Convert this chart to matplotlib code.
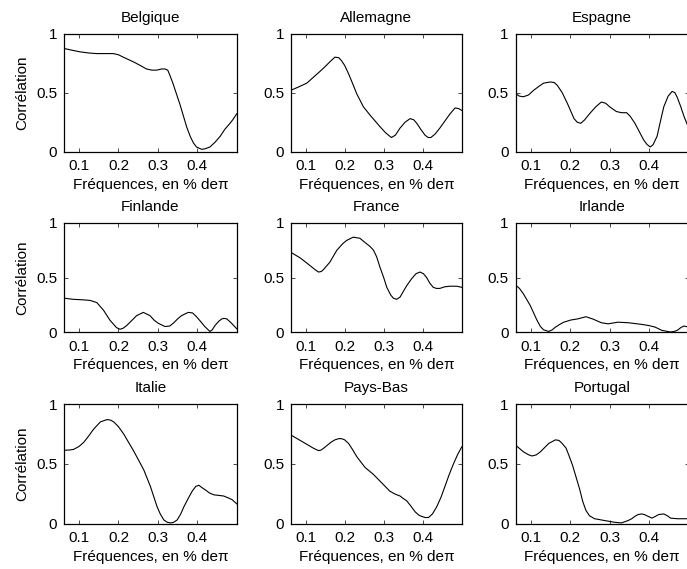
import matplotlib
matplotlib.use("Agg")
import matplotlib.pyplot as plt

plt.rcParams["font.family"] = ["Liberation Sans", "DejaVu Sans"]
plt.rcParams["font.size"] = 11

# --------------------------------------------------------------------------
# Coherence curves (frequency as fraction of pi)
# --------------------------------------------------------------------------

belgique_f = [0.0625, 0.08, 0.102, 0.125, 0.145, 0.165, 0.187, 0.2, 0.212, 0.238,
              0.255, 0.271, 0.285, 0.297, 0.31, 0.318, 0.325, 0.33, 0.338, 0.347,
              0.356, 0.365, 0.373, 0.382, 0.39, 0.398, 0.411, 0.42, 0.432, 0.445,
              0.458, 0.47, 0.483, 0.49, 0.5]
belgique_c = [0.873, 0.86, 0.845, 0.835, 0.83, 0.83, 0.83, 0.82, 0.80, 0.76,
              0.73, 0.70, 0.69, 0.69, 0.70, 0.70, 0.69, 0.65, 0.58, 0.49,
              0.40, 0.30, 0.21, 0.13, 0.075, 0.04, 0.02, 0.025, 0.04, 0.08,
              0.13, 0.19, 0.24, 0.27, 0.32]

allemagne_f = [0.0625, 0.08, 0.103, 0.12, 0.137, 0.15, 0.162, 0.175, 0.185, 0.192,
               0.2, 0.21, 0.22, 0.231, 0.248, 0.265, 0.278, 0.291, 0.305, 0.316,
               0.32, 0.33, 0.342, 0.355, 0.368, 0.377, 0.385, 0.395, 0.406, 0.414,
               0.421, 0.432, 0.444, 0.457, 0.47, 0.483, 0.492, 0.5]
allemagne_c = [0.52, 0.545, 0.58, 0.63, 0.68, 0.72, 0.76, 0.80, 0.795, 0.77,
               0.73, 0.66, 0.58, 0.49, 0.38, 0.31, 0.26, 0.21, 0.16, 0.13,
               0.12, 0.14, 0.20, 0.25, 0.28, 0.27, 0.24, 0.19, 0.14, 0.12,
               0.12, 0.15, 0.20, 0.26, 0.32, 0.37, 0.365, 0.35]

espagne_f = [0.0625, 0.072, 0.082, 0.095, 0.108, 0.12, 0.133, 0.15, 0.16, 0.168,
             0.18, 0.193, 0.21, 0.218, 0.227, 0.237, 0.249, 0.265, 0.279, 0.29,
             0.3, 0.317, 0.33, 0.343, 0.352, 0.364, 0.375, 0.386, 0.395, 0.403,
             0.41, 0.42, 0.428, 0.437, 0.448, 0.458, 0.465, 0.471, 0.48, 0.488,
             0.5]
espagne_c = [0.49, 0.47, 0.465, 0.48, 0.52, 0.55, 0.58, 0.59, 0.585, 0.56,
             0.50, 0.41, 0.28, 0.25, 0.24, 0.27, 0.32, 0.38, 0.42, 0.41,
             0.38, 0.34, 0.33, 0.33, 0.30, 0.24, 0.17, 0.10, 0.06, 0.04,
             0.06, 0.13, 0.25, 0.38, 0.47, 0.51, 0.50, 0.46, 0.38, 0.30,
             0.20]

finlande_f = [0.0625, 0.085, 0.11, 0.128, 0.145, 0.162, 0.178, 0.195, 0.204, 0.212,
              0.221, 0.235, 0.246, 0.263, 0.28, 0.29, 0.301, 0.318, 0.33, 0.339,
              0.35, 0.36, 0.377, 0.388, 0.398, 0.41, 0.419, 0.432, 0.438, 0.445,
              0.455, 0.462, 0.468, 0.475, 0.487, 0.5]
finlande_c = [0.31, 0.30, 0.295, 0.29, 0.27, 0.20, 0.11, 0.04, 0.025, 0.035,
              0.06, 0.11, 0.15, 0.18, 0.15, 0.11, 0.08, 0.05, 0.055, 0.08,
              0.12, 0.15, 0.18, 0.175, 0.14, 0.09, 0.05, 0.005, 0.02, 0.06,
              0.10, 0.12, 0.125, 0.12, 0.08, 0.03]

france_f = [0.0625, 0.086, 0.111, 0.125, 0.133, 0.14, 0.145, 0.162, 0.18, 0.195,
            0.205, 0.222, 0.239, 0.256, 0.265, 0.274, 0.282, 0.29, 0.3, 0.308,
            0.318, 0.325, 0.333, 0.342, 0.35, 0.36, 0.372, 0.383, 0.393, 0.402,
            0.41, 0.418, 0.427, 0.435, 0.444, 0.457, 0.47, 0.487, 0.5]
france_c = [0.73, 0.68, 0.61, 0.57, 0.55, 0.555, 0.57, 0.64, 0.75, 0.81,
            0.84, 0.87, 0.86, 0.81, 0.785, 0.75, 0.69, 0.60, 0.50, 0.41,
            0.34, 0.31, 0.30, 0.32, 0.37, 0.43, 0.49, 0.535, 0.55, 0.535,
            0.50, 0.45, 0.41, 0.40, 0.40, 0.415, 0.42, 0.42, 0.41]

irlande_f = [0.0625, 0.072, 0.082, 0.099, 0.116, 0.125, 0.133, 0.146, 0.155, 0.163,
             0.174, 0.184, 0.202, 0.219, 0.24, 0.257, 0.279, 0.296, 0.321, 0.347,
             0.381, 0.398, 0.415, 0.432, 0.454, 0.463, 0.471, 0.48, 0.488, 0.5]
irlande_c = [0.43, 0.40, 0.35, 0.245, 0.11, 0.05, 0.02, 0.005, 0.02, 0.045,
             0.07, 0.09, 0.11, 0.12, 0.14, 0.12, 0.085, 0.075, 0.09, 0.085,
             0.07, 0.06, 0.045, 0.015, 0.0, 0.005, 0.015, 0.04, 0.055, 0.045]

italie_f = [0.0625, 0.075, 0.086, 0.1, 0.112, 0.125, 0.137, 0.154, 0.171, 0.18,
            0.188, 0.2, 0.213, 0.238, 0.264, 0.281, 0.29, 0.298, 0.306, 0.315,
            0.324, 0.332, 0.34, 0.349, 0.358, 0.366, 0.377, 0.387, 0.396, 0.404,
            0.412, 0.421, 0.431, 0.442, 0.455, 0.467, 0.478, 0.488, 0.5]
italie_c = [0.613, 0.615, 0.62, 0.645, 0.68, 0.735, 0.79, 0.85, 0.87, 0.865,
            0.85, 0.81, 0.75, 0.61, 0.45, 0.31, 0.22, 0.14, 0.08, 0.03,
            0.01, 0.005, 0.01, 0.03, 0.08, 0.14, 0.21, 0.27, 0.31, 0.32,
            0.30, 0.28, 0.255, 0.24, 0.235, 0.23, 0.215, 0.20, 0.165]

paysbas_f = [0.0625, 0.094, 0.12, 0.133, 0.14, 0.15, 0.165, 0.175, 0.185, 0.192,
             0.2, 0.21, 0.22, 0.231, 0.252, 0.274, 0.295, 0.316, 0.33, 0.342,
             0.35, 0.359, 0.37, 0.38, 0.39, 0.397, 0.406, 0.415, 0.425, 0.436,
             0.447, 0.457, 0.468, 0.479, 0.49, 0.5]
paysbas_c = [0.74, 0.68, 0.63, 0.61, 0.615, 0.64, 0.68, 0.70, 0.71, 0.71,
             0.70, 0.67, 0.62, 0.56, 0.47, 0.41, 0.34, 0.27, 0.245, 0.23,
             0.21, 0.19, 0.145, 0.10, 0.07, 0.06, 0.05, 0.05, 0.08, 0.14,
             0.22, 0.31, 0.41, 0.50, 0.58, 0.64]

portugal_f = [0.0625, 0.082, 0.095, 0.104, 0.115, 0.125, 0.146, 0.163, 0.172, 0.18,
              0.19, 0.197, 0.206, 0.215, 0.224, 0.232, 0.24, 0.249, 0.262, 0.287,
              0.313, 0.33, 0.347, 0.356, 0.364, 0.372, 0.381, 0.388, 0.394, 0.407,
              0.416, 0.424, 0.437, 0.446, 0.454, 0.471, 0.5]
portugal_c = [0.655, 0.60, 0.575, 0.565, 0.575, 0.60, 0.67, 0.70, 0.695, 0.67,
              0.63, 0.57, 0.49, 0.39, 0.29, 0.185, 0.11, 0.065, 0.04, 0.025,
              0.01, 0.005, 0.025, 0.04, 0.06, 0.075, 0.08, 0.075, 0.065, 0.045,
              0.06, 0.075, 0.08, 0.065, 0.045, 0.04, 0.04]

COUNTRIES = ["Belgique", "Allemagne", "Espagne",
             "Finlande", "France", "Irlande",
             "Italie", "Pays-Bas", "Portugal"]
FREQS = [belgique_f, allemagne_f, espagne_f,
         finlande_f, france_f, irlande_f,
         italie_f, paysbas_f, portugal_f]
COHER = [belgique_c, allemagne_c, espagne_c,
         finlande_c, france_c, irlande_c,
         italie_c, paysbas_c, portugal_c]

X_TICKS = [0.1, 0.2, 0.3, 0.4]
Y_TICKS = [0, 0.5, 1]
Y_TICK_LABELS = ["0", "0.5", "1"]

W, H = 687, 569
# axes boxes in pixels: (left, top, width, height)
COL_LEFT = [64.3, 291.0, 515.7]
COL_W = [172.4, 170.7, 173.0]
ROW_TOP = [33.5, 223.0, 404.0]
ROW_H = [118.2, 109.0, 119.5]


def main():
    fig = plt.figure(figsize=(W / 100, H / 100), dpi=100)

    for i, name in enumerate(COUNTRIES):
        r, c = divmod(i, 3)
        left = COL_LEFT[c] / W
        bottom = 1 - (ROW_TOP[r] + ROW_H[r]) / H
        ax = fig.add_axes([left, bottom, COL_W[c] / W, ROW_H[r] / H])

        ax.plot(FREQS[i], COHER[i], color="black", linewidth=0.8)

        ax.set_xlim(0.0625, 0.5)
        ax.set_ylim(0, 1)
        ax.set_xticks(X_TICKS)
        ax.set_xticklabels([f"{t:.1f}" for t in X_TICKS])
        ax.set_yticks(Y_TICKS)
        ax.set_yticklabels(Y_TICK_LABELS)
        ax.tick_params(direction="in", length=3, width=0.5,
                       top=True, right=True, labelsize=11)
        ax.tick_params(axis="x", pad=5.5)
        ax.tick_params(axis="y", pad=5)
        for sp in ax.spines.values():
            sp.set_linewidth(0.9)

        ax.set_title(name, fontsize=11, pad=8.5)
        ax.set_xlabel("Fréquences, en % deπ", fontsize=11, labelpad=3.5)
        if c == 0:
            ax.set_ylabel("Corrélation", fontsize=11, labelpad=5)

    fig.savefig("out.png", dpi=100)


if __name__ == "__main__":
    main()
